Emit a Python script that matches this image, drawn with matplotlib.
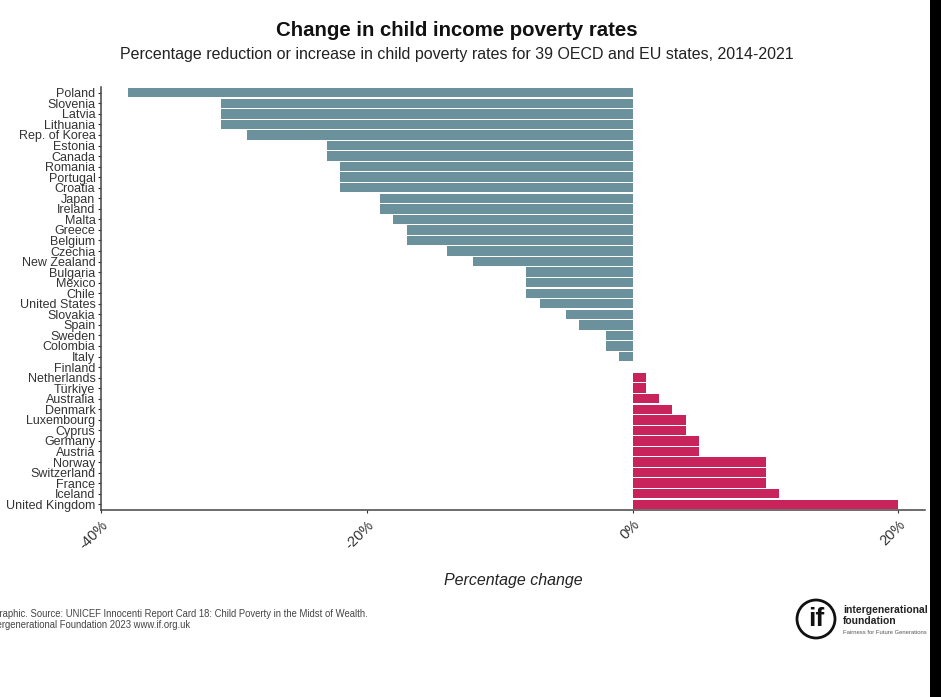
import matplotlib
matplotlib.use("Agg")
import matplotlib.pyplot as plt
from matplotlib.patches import Circle, Rectangle

plt.rcParams['font.family'] = ['Liberation Sans', 'DejaVu Sans']

countries = ["Poland", "Slovenia", "Latvia", "Lithuania", "Rep. of Korea", "Estonia", "Canada",
             "Romania", "Portugal", "Croatia", "Japan", "Ireland", "Malta", "Greece", "Belgium",
             "Czechia", "New Zealand", "Bulgaria", "Mexico", "Chile", "United States", "Slovakia",
             "Spain", "Sweden", "Colombia", "Italy", "Finland", "Netherlands", "Türkiye",
             "Australia", "Denmark", "Luxembourg", "Cyprus", "Germany", "Austria", "Norway",
             "Switzerland", "France", "Iceland", "United Kingdom"]
change = [-38, -31, -31, -31, -29, -23, -23, -22, -22, -22, -19, -19, -18, -17, -17,
          -14, -12, -8, -8, -8, -7, -5, -4, -2, -2, -1, 0, 1, 1,
          2, 3, 4, 4, 5, 5, 10, 10, 10, 11, 20]
xticks = [-40, -20, 0, 20]
xticklabels = ["-40%", "-20%", "0%", "20%"]

W, H = 941, 697
TEAL = "#6b929c"
CRIMSON = "#c8235a"
DARK = "#333333"

fig = plt.figure(figsize=(W / 100, H / 100), dpi=100)
ax = fig.add_axes([101 / W, 1 - 510 / H, (925 - 101) / W, (510 - 87) / H])

ypos = list(range(len(countries)))
colors = [TEAL if v < 0 else CRIMSON for v in change]
ax.barh(ypos, change, height=0.89, color=colors, edgecolor="none")

ax.set_xlim(-40, 22)
ax.set_ylim(39.55, -0.55)
ax.set_yticks(ypos)
ax.set_yticklabels(countries, fontsize=9.0, color=DARK)
ax.set_xticks(xticks)
ax.set_xticklabels(xticklabels, fontsize=10.5, color=DARK, rotation=45, ha="right",
                   rotation_mode="anchor")
ax.tick_params(axis="y", length=2.5, width=0.8, color=DARK, pad=1.5)
ax.tick_params(axis="x", length=2.5, width=0.8, color=DARK, pad=3)

for side in ["top", "right"]:
    ax.spines[side].set_visible(False)
for side in ["left", "bottom"]:
    ax.spines[side].set_color("#444444")
    ax.spines[side].set_linewidth(1.1)

ax.set_xlabel("Percentage change", fontsize=11.5, style="italic", color="#222222", labelpad=0)
ax.xaxis.set_label_coords((513 - 101) / (925 - 101), -(580 - 510) / (510 - 87), transform=ax.transAxes)
ax.xaxis.label.set_verticalalignment("center")

fig.text(457 / W, 1 - 31 / H, "Change in child income poverty rates", fontsize=14.7, fontweight="bold",
         color="#111111", ha="center", va="center")
fig.text(457 / W, 1 - 54 / H,
         "Percentage reduction or increase in child poverty rates for 39 OECD and EU states, 2014-2021",
         fontsize=11.5, color="#222222", ha="center", va="center")

# footnote runs off the left edge in the original too
fig.text(-8 / W, 1 - 614 / H,
         "Graphic. Source: UNICEF Innocenti Report Card 18: Child Poverty in the Midst of Wealth.",
         fontsize=6.85, color="#444444", va="center")
fig.text(-14 / W, 1 - 625 / H, "Intergenerational Foundation 2023 www.if.org.uk",
         fontsize=6.85, color="#444444", va="center")

# logo
bg = fig.add_axes([0, 0, 1, 1], zorder=5)
bg.set_xlim(0, W)
bg.set_ylim(H, 0)
bg.axis("off")
bg.add_patch(Circle((816, 619), 19, fill=False, edgecolor="#111111", linewidth=2))
bg.text(816, 619, "if", fontsize=19, fontweight="bold", color="#111111", ha="center", va="center")
bg.text(843, 610, "intergenerational", fontsize=7.5, fontweight="bold", color="#222222", va="center")
bg.text(843, 621, "foundation", fontsize=7.5, fontweight="bold", color="#222222", va="center")
bg.text(843, 632, "Fairness for Future Generations", fontsize=4.2, color="#555555", va="center")

# dark strip on the right of the screenshot
bg.add_patch(Rectangle((930, 0), 11, H, facecolor="black", edgecolor="none"))

fig.savefig("out.png", dpi=100)
